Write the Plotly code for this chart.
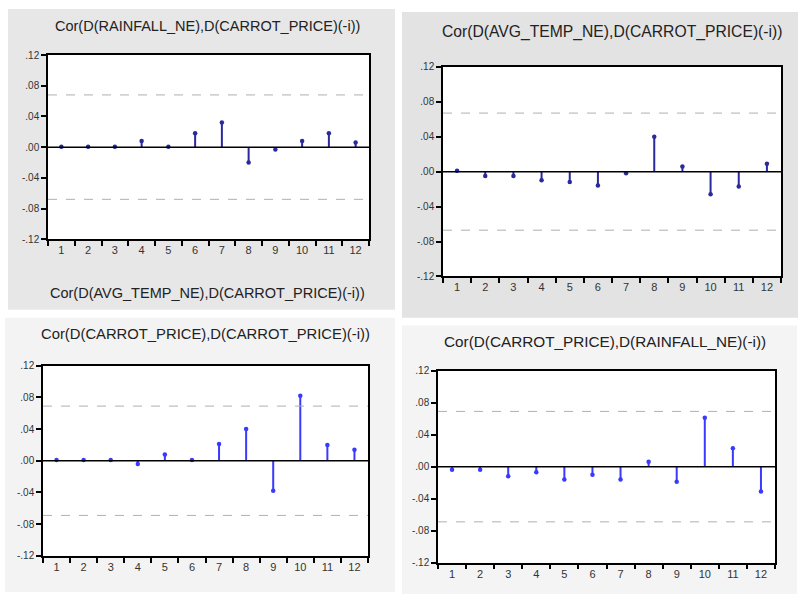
import plotly.graph_objects as go

lags = list(range(1, 13))
lag_labels = [str(i) for i in lags]

rain_vs_carrot = [0.0005, 0.0005, 0.0005, 0.008, 0.0005, 0.018, 0.032, -0.020, -0.003, 0.008, 0.018, 0.006]
temp_vs_carrot = [0.001, -0.005, -0.005, -0.010, -0.012, -0.016, -0.002, 0.040, 0.006, -0.026, -0.017, 0.009]
carrot_vs_carrot = [0.001, 0.001, 0.001, -0.004, 0.008, 0.001, 0.021, 0.040, -0.038, 0.082, 0.020, 0.014]
carrot_vs_rain = [-0.004, -0.004, -0.012, -0.007, -0.016, -0.010, -0.016, 0.006, -0.019, 0.061, 0.023, -0.031]

bands = [0.068, 0.067, 0.069, 0.069]

titles = [
    "Cor(D(RAINFALL_NE),D(CARROT_PRICE)(-i))",
    "Cor(D(AVG_TEMP_NE),D(CARROT_PRICE)(-i))",
    "Cor(D(CARROT_PRICE),D(CARROT_PRICE)(-i))",
    "Cor(D(CARROT_PRICE),D(RAINFALL_NE)(-i))",
]
extra_label = "Cor(D(AVG_TEMP_NE),D(CARROT_PRICE)(-i))"

y_ticks = [0.12, 0.08, 0.04, 0.0, -0.04, -0.08, -0.12]
y_ticktext = [".12", ".08", ".04", ".00", "-.04", "-.08", "-.12"]

W, H = 799, 602
FONT = "Liberation Sans, Arial"

def px(x):
    return x / W

def py(y):
    return 1 - y / H

panels = [
    dict(series=rain_vs_carrot, box=(48, 369, 50, 238), bg=(8, 395, 3, 310), bgc="#e7e7e7",
         title=(207, 20), color="#2a2a9c", fs=14.5),
    dict(series=temp_vs_carrot, box=(443, 781, 62, 276), bg=(402, 798, 6, 318), bgc="#e3e3e3",
         title=(612, 27), color="#2a2a9c", fs=15.7),
    dict(series=carrot_vs_carrot, box=(43, 368, 367, 561), bg=(5, 395, 318, 598), bgc="#f3f3f3",
         title=(205, 335), color="#3a3aff", fs=14.8),
    dict(series=carrot_vs_rain, box=(438, 775, 372, 568), bg=(402, 797, 326, 600), bgc="#f4f4f4",
         title=(605, 342), color="#3a3aff", fs=15.3),
]

fig = go.Figure()
shapes = []
annotations = []
layout_axes = {}

for i, p in enumerate(panels):
    k = "" if i == 0 else str(i + 1)
    xa, ya = "x" + k, "y" + k
    l, r, t, b = p["box"]
    bl, br, bt, bb = p["bg"]
    shapes.append(dict(type="rect", xref="paper", yref="paper", x0=px(bl), x1=px(br),
                       y0=py(bb), y1=py(bt), fillcolor=p["bgc"], line=dict(width=0), layer="below"))
    shapes.append(dict(type="rect", xref="paper", yref="paper", x0=px(l), x1=px(r),
                       y0=py(b), y1=py(t), fillcolor="white", line=dict(width=0), layer="below"))
    xs, ys = [], []
    for lag, v in zip(lags, p["series"]):
        xs += [lag, lag, None]
        ys += [0, v, None]
    fig.add_trace(go.Scatter(x=xs, y=ys, mode="lines", line=dict(color=p["color"], width=2),
                             xaxis=xa, yaxis=ya, showlegend=False, hoverinfo="skip"))
    fig.add_trace(go.Scatter(x=lags, y=p["series"], mode="markers",
                             marker=dict(color=p["color"], size=4.5, symbol="circle"),
                             xaxis=xa, yaxis=ya, showlegend=False))
    for yv, dash, col, w in [(bands[i], "dash", "#b0b0b0", 1), (-bands[i], "dash", "#b0b0b0", 1),
                             (0, "solid", "#000000", 1.5)]:
        shapes.append(dict(type="line", xref=xa + " domain", yref=ya, x0=0, x1=1, y0=yv, y1=yv,
                           line=dict(color=col, width=w, dash=dash)))
    layout_axes["xaxis" + k] = dict(
        domain=[px(l), px(r)], anchor=ya, range=[0.5, 12.5],
        tickmode="array", tickvals=lags, ticktext=lag_labels, ticks="",
        minor=dict(tick0=0.5, dtick=1, ticks="outside", ticklen=5, tickcolor="black", tickwidth=1.5),
        showgrid=False, zeroline=False, showline=True, linecolor="black", linewidth=1.5, mirror=True,
        tickfont=dict(size=11, color="#333333", family=FONT), fixedrange=True,
    )
    layout_axes["yaxis" + k] = dict(
        domain=[py(b), py(t)], anchor=xa, range=[-0.12, 0.12],
        tickmode="array", tickvals=y_ticks, ticktext=y_ticktext, ticks="outside", ticklen=5,
        tickcolor="black", tickwidth=1.5,
        showgrid=False, zeroline=False, showline=True, linecolor="black", linewidth=1.5, mirror=True,
        tickfont=dict(size=10, color="#333333", family=FONT), fixedrange=True,
    )
    annotations.append(dict(text=titles[i], x=px(p["title"][0]), y=py(p["title"][1]),
                            xref="paper", yref="paper", showarrow=False, xanchor="center",
                            yanchor="middle",
                            font=dict(size=p["fs"], color="#222222", family=FONT)))

annotations.append(dict(text=extra_label, x=px(207), y=py(293), xref="paper", yref="paper",
                        showarrow=False, xanchor="center", yanchor="middle",
                        font=dict(size=14.5, color="#222222", family=FONT)))

fig.update_layout(width=W, height=H, margin=dict(l=0, r=0, t=0, b=0),
                  paper_bgcolor="white", plot_bgcolor="rgba(0,0,0,0)",
                  shapes=shapes, annotations=annotations, **layout_axes)

fig.write_html("out.html", config={"displayModeBar": False},
               post_script="document.body.style.margin='0';document.body.style.padding='0';"
                           "document.documentElement.style.overflow='hidden';")
